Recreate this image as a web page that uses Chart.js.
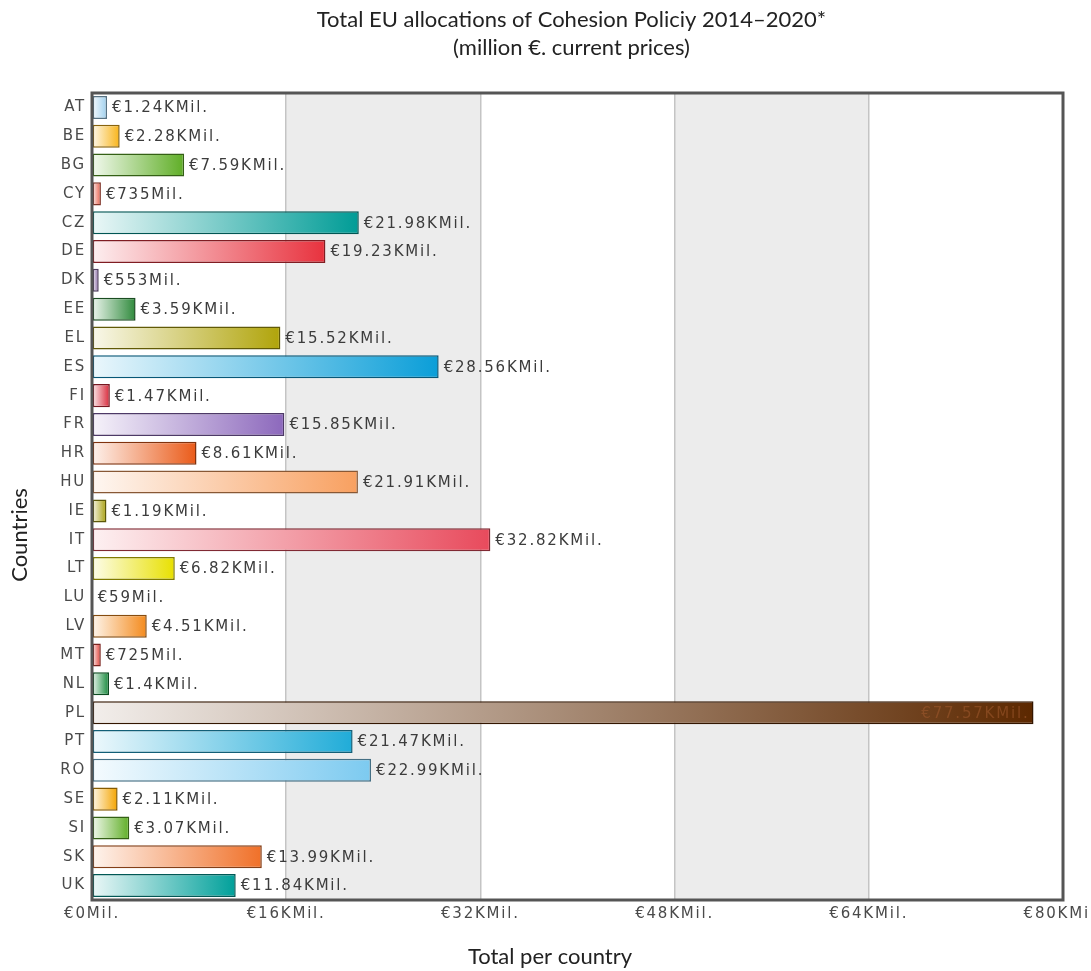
<!DOCTYPE html>
<html>
<head>
<meta charset="utf-8">
<script src="https://cdn.jsdelivr.net/npm/chart.js@4.4.1/dist/chart.umd.min.js"></script>
<style>
  html, body { margin: 0; padding: 0; background: #fff; overflow: hidden; }
  #wrap { position: absolute; left: 0; top: 0; width: 1103px; height: 971px; }
</style>
</head>
<body>
<div id="wrap"><canvas id="chart"></canvas></div>
<script>
// values in million €
const COUNTRIES = ['AT', 'BE', 'BG', 'CY', 'CZ', 'DE', 'DK', 'EE', 'EL', 'ES', 'FI', 'FR', 'HR', 'HU',
  'IE', 'IT', 'LT', 'LU', 'LV', 'MT', 'NL', 'PL', 'PT', 'RO', 'SE', 'SI', 'SK', 'UK'];
const ALLOCATIONS = [1240, 2280, 7590, 735, 21980, 19230, 553, 3590, 15520, 28560, 1470, 15850, 8610, 21910,
  1190, 32820, 6820, 59, 4510, 725, 1400, 77570, 21470, 22990, 2110, 3070, 13990, 11840];
const VALUE_LABELS = ['€1.24KMil.', '€2.28KMil.', '€7.59KMil.', '€735Mil.', '€21.98KMil.', '€19.23KMil.',
  '€553Mil.', '€3.59KMil.', '€15.52KMil.', '€28.56KMil.', '€1.47KMil.', '€15.85KMil.', '€8.61KMil.',
  '€21.91KMil.', '€1.19KMil.', '€32.82KMil.', '€6.82KMil.', '€59Mil.', '€4.51KMil.', '€725Mil.',
  '€1.4KMil.', '€77.57KMil.', '€21.47KMil.', '€22.99KMil.', '€2.11KMil.', '€3.07KMil.', '€13.99KMil.',
  '€11.84KMil.'];
const TICK_LABELS = ['€0Mil.', '€16KMil.', '€32KMil.', '€48KMil.', '€64KMil.', '€80KMil.'];
const BAR_COLORS = ['#9fd0ee', '#f8b418', '#5fae26', '#e8604c', '#009c96', '#e8323e', '#8c6ca8', '#2f8a3c',
  '#b0a40a', '#0a9ed8', '#d8283a', '#8c68bc', '#ea5a18', '#f8a060', '#a8a010', '#e84a5c', '#e8e000',
  '#f0a000', '#f48a1c', '#e04038', '#168a3c', '#5c2800', '#20acd8', '#7ccaf0', '#f4a400', '#5fae26',
  '#f07028', '#00a09a'];
const TITLE_LINES = ['Total EU allocations of Cohesion Policiy 2014\u20132020*', '(million \u20ac. current prices)'];

const TEXT_FONT = '"Lato", "Open Sans", sans-serif';
const TICK_FONT = '"DejaVu Sans", Verdana, sans-serif';
const SPACING = '1.8px';

function mix(hex, target, amount) {
  const n = parseInt(hex.slice(1), 16);
  const c = [(n >> 16) & 255, (n >> 8) & 255, n & 255];
  return `rgb(${c.map(v => Math.round(v + (target - v) * amount)).join(',')})`;
}

function barGradient(context) {
  const chart = context.chart;
  const color = BAR_COLORS[context.dataIndex];
  const xScale = chart.scales.x;
  if (!chart.chartArea || !xScale || context.raw === undefined) return color;
  const g = chart.ctx.createLinearGradient(xScale.getPixelForValue(0), 0, xScale.getPixelForValue(context.raw), 0);
  g.addColorStop(0, mix(color, 255, 0.92));
  g.addColorStop(1, color);
  return g;
}

// shaded bands, frame, value labels and titles
const decor = {
  id: 'decor',
  beforeDraw(chart) {
    const { ctx, chartArea: a, scales: { x } } = chart;
    ctx.letterSpacing = SPACING;
    ctx.save();
    ctx.fillStyle = '#ececec';
    [[16000, 32000], [48000, 64000]].forEach(([from, to]) => {
      const x0 = x.getPixelForValue(from);
      ctx.fillRect(x0, a.top, x.getPixelForValue(to) - x0, a.bottom - a.top);
    });
    ctx.restore();
  },
  afterDatasetsDraw(chart) {
    const { ctx, chartArea: a } = chart;
    const meta = chart.getDatasetMeta(0);
    ctx.save();
    ctx.font = `15px ${TICK_FONT}`;
    ctx.letterSpacing = SPACING;
    ctx.textBaseline = 'middle';
    meta.data.forEach((bar, i) => {
      if (ALLOCATIONS[i] > 70000) {
        ctx.fillStyle = 'rgba(160,90,45,0.55)';
        ctx.textAlign = 'right';
        ctx.fillText(VALUE_LABELS[i], bar.x - 4, bar.y + 1);
      } else {
        ctx.fillStyle = '#3c3c3c';
        ctx.textAlign = 'left';
        ctx.fillText(VALUE_LABELS[i], bar.x + 5, bar.y + 1);
      }
    });
    ctx.lineWidth = 3;
    ctx.strokeStyle = '#555';
    ctx.strokeRect(a.left, a.top, a.right - a.left, a.bottom - a.top);
    ctx.restore();
  },
  afterDraw(chart) {
    const { ctx, chartArea: a } = chart;
    ctx.save();
    ctx.letterSpacing = '0px';
    ctx.fillStyle = '#222';
    ctx.font = `22px ${TEXT_FONT}`;
    ctx.textAlign = 'center';
    ctx.textBaseline = 'middle';
    const cx = (a.left + a.right) / 2;
    TITLE_LINES.forEach((line, i) => ctx.fillText(line, cx - 6, 20 + i * 28));
    ctx.fillText('Total per country', 550, 957);
    ctx.translate(20, 535);
    ctx.rotate(-Math.PI / 2);
    ctx.fillText('Countries', 0, 0);
    ctx.restore();
  },
};

new Chart(document.getElementById('chart'), {
  type: 'bar',
  data: {
    labels: COUNTRIES,
    datasets: [{
      data: ALLOCATIONS,
      backgroundColor: barGradient,
      borderColor: BAR_COLORS.map(c => mix(c, 0, 0.45)),
      borderWidth: 1.5,
      borderSkipped: false,
      barPercentage: 0.8,
      categoryPercentage: 1,
    }],
  },
  options: {
    indexAxis: 'y',
    responsive: true,
    maintainAspectRatio: false,
    animation: false,
    layout: { padding: { top: 93, bottom: 41, left: 0, right: 40 } },
    plugins: {
      legend: { display: false },
      tooltip: { enabled: false },
    },
    scales: {
      x: {
        min: 0,
        max: 80000,
        ticks: {
          stepSize: 16000,
          color: '#4a4a4a',
          padding: 5,
          maxRotation: 0,
          font: { family: TICK_FONT, size: 15 },
          callback: (value, index) => TICK_LABELS[index],
        },
        grid: { color: '#c4c4c4', lineWidth: 1.5, drawTicks: false },
        border: { display: false },
        afterFit(scale) { scale.height = 30; },
      },
      y: {
        ticks: {
          color: '#4a4a4a',
          padding: 6,
          font: { family: TICK_FONT, size: 15 },
        },
        grid: { display: false, drawTicks: false },
        border: { display: false },
        afterFit(scale) { scale.width = 92; },
      },
    },
  },
  plugins: [decor],
});
</script>
</body>
</html>
